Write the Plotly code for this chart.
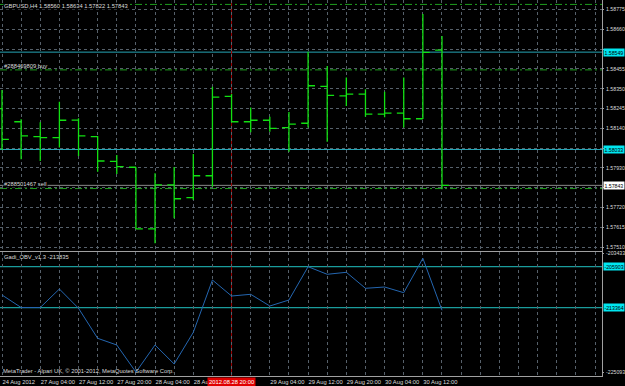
import plotly.graph_objects as go

# ---------------- data ----------------
bar_index = list(range(24))
opens  = [1.58250, 1.58180, 1.58101, 1.58096, 1.58189, 1.58101, 1.57970, 1.57939, 1.57612, 1.57846,
          1.57778, 1.57894, 1.58315, 1.58180, 1.58188, 1.58149, 1.58172, 1.58368, 1.58317, 1.58327,
          1.58220, 1.58226, 1.58196, 1.58560]
highs  = [1.58348, 1.58193, 1.58177, 1.58286, 1.58198, 1.58105, 1.58004, 1.57939, 1.57907, 1.57940,
          1.58009, 1.58366, 1.58327, 1.58255, 1.58207, 1.58232, 1.58551, 1.58476, 1.58414, 1.58352,
          1.58339, 1.58414, 1.58751, 1.58634]
lows   = [1.58030, 1.57981, 1.57972, 1.58043, 1.57999, 1.57915, 1.57903, 1.57612, 1.57536, 1.57668,
          1.57765, 1.57836, 1.58176, 1.58124, 1.58127, 1.58021, 1.58149, 1.58074, 1.58264, 1.58207,
          1.58204, 1.58149, 1.58195, 1.57822]
closes = [1.58087, 1.58105, 1.58096, 1.58188, 1.58105, 1.57972, 1.57942, 1.57612, 1.57846, 1.57772,
          1.57894, 1.58311, 1.58180, 1.58188, 1.58145, 1.58167, 1.58371, 1.58320, 1.58327, 1.58220,
          1.58226, 1.58196, 1.58548, 1.57843]
obv = [-211054, -213329, -213329, -209962, -213474, -218934, -220154, -225093, -220154, -223612,
       -217842, -208324, -211236, -210926, -213056, -211964, -205903, -207286, -206922, -209834,
       -209598, -210635, -204374, -213835]

time_tick_pos = list(range(32))
# the 28 Aug 20:00 label sits under the red cursor label, so it is left blank here
time_labels = {0: "24 Aug 2012", 2: "27 Aug 04:00", 4: "27 Aug 12:00", 6: "27 Aug 20:00",
               8: "28 Aug 04:00", 10: "28 Aug 12:00", 14: "29 Aug 04:00",
               16: "29 Aug 12:00", 18: "29 Aug 20:00", 20: "30 Aug 04:00", 22: "30 Aug 12:00"}
time_tick_text = [time_labels.get(i, "") for i in time_tick_pos]

price_grid = [round(1.58775 - k * 0.00105, 5) for k in range(13)]
price_tick_text = ["1.58775", "1.58660", "", "1.58455", "1.58350", "1.58245", "1.58140", "",
                   "1.57930", "", "1.57720", "1.57615", "1.57510"]

alert_levels = [1.58549, 1.58033]          # cyan lines
order_levels = [1.58802, 1.58455, 1.57826]  # green dashed order lines
bid_price = 1.57843
obv_levels = [-205903, -213364]
obv_axis_ticks = [-203433, -225093]
cursor_bar = 12
cursor_label = "2012.08.28 20:00"
title_text = "GBPUSD,H4 1.58560 1.58634 1.57822 1.57843"
ind_title = "Gadi_OBV_v1.3 -213835"
copyright_text = "MetaTrader - Alpari UK, \u00a9 2001-2012, MetaQuotes Software Corp."
buy_label = "#288469809 buy"
sell_label = "#288501467 sell"

# ---------------- style ----------------
FONT = "Liberation Sans"
FS = 5.8
FS_AX = 5.2
TXT = "#dcdcdc"
GRID = "#56606a"
BORDER = "#a0a0a0"
BAR = "#12e012"
CYAN_LINE = "#25a5b5"
TEAL_LINE = "#1a9c9c"
ORDER = "#1e9e1e"
OBV_COL = "#2466b0"

H_PLOT = 376.0
def py(px):  # pixel (from top of plot area) -> paper
    return 1 - px / H_PLOT

fig = go.Figure()
fig.add_trace(go.Ohlc(x=bar_index, open=opens, high=highs, low=lows, close=closes,
                      increasing=dict(line=dict(color=BAR, width=1.3)),
                      decreasing=dict(line=dict(color=BAR, width=1.3)),
                      tickwidth=0.36, xaxis="x", yaxis="y", showlegend=False, hoverinfo="skip"))
fig.add_trace(go.Scatter(x=bar_index, y=obv, mode="lines", line=dict(color=OBV_COL, width=1),
                         xaxis="x2", yaxis="y2", showlegend=False, hoverinfo="skip"))

xr = [-0.1045, 31.364]
common_x = dict(range=xr, tickvals=time_tick_pos, showgrid=True, gridcolor=GRID, griddash="3px,3px",
                gridwidth=1, zeroline=False, showline=True, mirror=True, linecolor=BORDER,
                linewidth=1, ticks="", fixedrange=True, automargin=False, tickangle=0)
fig.update_layout(
    width=625, height=386,
    margin=dict(l=0, r=23, t=0, b=10, autoexpand=False),
    paper_bgcolor="#000000", plot_bgcolor="#000000",
    font=dict(family=FONT, size=FS, color=TXT),
    xaxis=dict(domain=[0, 1], anchor="y", showticklabels=False, rangeslider=dict(visible=False),
               **common_x),
    xaxis2=dict(domain=[0, 1], anchor="y2", matches="x", ticktext=time_tick_text,
                ticklabelposition="outside right", ticklabelstandoff=0,
                tickfont=dict(size=FS, color=TXT), **common_x),
    yaxis=dict(domain=[py(250.5), 1], anchor="x", side="right", range=[1.574977, 1.5882535],
               tickvals=price_grid, ticktext=price_tick_text, showgrid=True, gridcolor=GRID,
               griddash="3px,3px", zeroline=False, showline=True, mirror=True, linecolor=BORDER,
               ticks="outside", ticklen=1, tickcolor=BORDER, ticklabelstandoff=1,
               tickfont=dict(size=FS_AX, color=TXT), automargin=False, fixedrange=True),
    yaxis2=dict(domain=[0, py(252)], anchor="x2", side="right", range=[-225796, -203228],
                tickvals=obv_axis_ticks, ticktext=[str(v) for v in obv_axis_ticks], showgrid=False,
                zeroline=False, showline=True, mirror=True, linecolor=BORDER,
                ticks="outside", ticklen=1, tickcolor=BORDER, ticklabelstandoff=1,
                tickfont=dict(size=FS_AX, color=TXT), automargin=False, fixedrange=True),
)

shapes = []
for lv in alert_levels:
    shapes.append(dict(type="line", xref="x domain", yref="y", x0=0, x1=1, y0=lv, y1=lv,
                       line=dict(color=CYAN_LINE, width=1), layer="below"))
for lv in order_levels:
    shapes.append(dict(type="line", xref="x domain", yref="y", x0=0, x1=1, y0=lv, y1=lv,
                       line=dict(color=ORDER, width=1, dash="7px,3px,2px,3px"), layer="below"))
shapes.append(dict(type="line", xref="x domain", yref="y", x0=0, x1=1, y0=bid_price, y1=bid_price,
                   line=dict(color="#8a8a8a", width=1), layer="below"))
for lv in obv_levels:
    shapes.append(dict(type="line", xref="x2 domain", yref="y2", x0=0, x1=1, y0=lv, y1=lv,
                       line=dict(color=TEAL_LINE, width=1.2), layer="below"))
shapes.append(dict(type="line", xref="x", yref="paper", x0=cursor_bar, x1=cursor_bar, y0=0, y1=1,
                   line=dict(color="#a00000", width=1), layer="below"))
fig.update_layout(shapes=shapes)

ann = []
def text_ann(txt, x_px, y_px, bg=None):
    d = dict(text=txt, xref="paper", yref="paper", x=x_px / 602.0, y=py(y_px), xanchor="left",
             yanchor="middle", showarrow=False, font=dict(family=FONT, size=FS, color=TXT),
             borderpad=0)
    if bg:
        d["bgcolor"] = bg
    ann.append(d)

text_ann(title_text, 3, 6, bg="#000000")
text_ann(buy_label, 3, 66)
text_ann(sell_label, 3, 184, bg="#000000")
text_ann(ind_title, 3, 257)
text_ann(copyright_text, 2, 371)

def axis_box(val, yref, bg):
    ann.append(dict(text=str(val), xref="paper", yref=yref, x=1, y=val, xanchor="left",
                    yanchor="middle", xshift=1, showarrow=False, bgcolor=bg, borderpad=0.5,
                    font=dict(family=FONT, size=FS_AX, color="#000000")))

axis_box(alert_levels[0], "y", "#00e6f0")
axis_box(alert_levels[1], "y", "#00e6f0")
axis_box(bid_price, "y", "#ffffff")
for lv in obv_levels:
    axis_box(lv, "y2", "#00e6f0")

ann.append(dict(text=cursor_label, xref="x2", yref="paper", x=cursor_bar, y=0, yanchor="top",
                xanchor="center", yshift=-1, showarrow=False, bgcolor="#e00000", borderpad=1,
                font=dict(family=FONT, size=FS, color="#ffffff")))
fig.update_layout(annotations=ann)

fig.write_html("out.html")
